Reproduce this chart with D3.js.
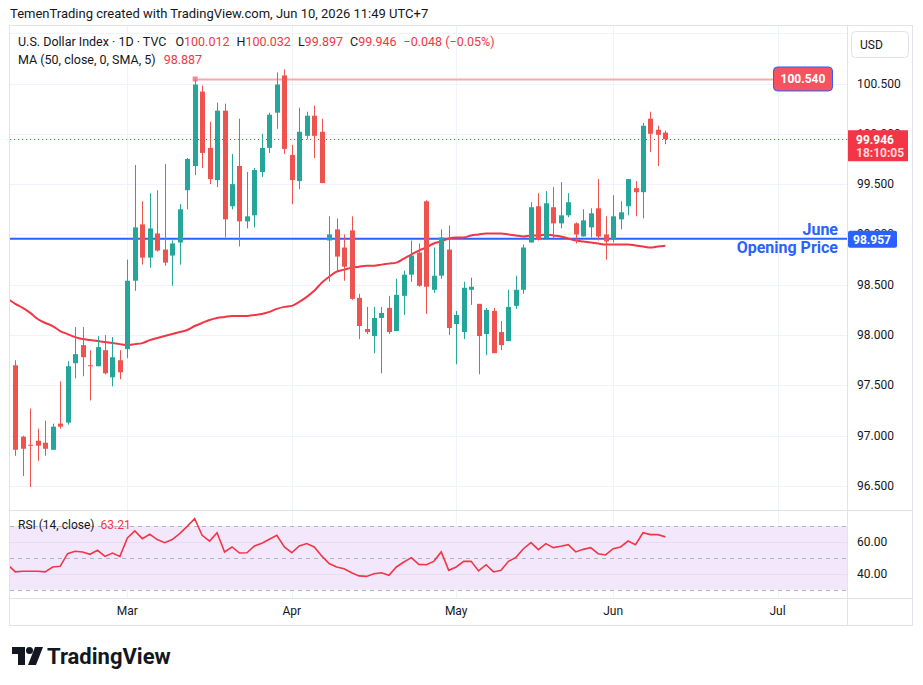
<!DOCTYPE html>
<html>
<head>
<meta charset="utf-8">
<script src="https://cdn.jsdelivr.net/npm/d3@7"></script>
<style>
  body { margin: 0; background: #fff; }
  svg { font-family: Roboto, "Noto Sans", sans-serif; }
</style>
</head>
<body>
<div id="chart"></div>
<script>
// Trading days shown on the chart
const dates = [
  '2026-02-09','2026-02-10','2026-02-11','2026-02-12','2026-02-13','2026-02-16','2026-02-17','2026-02-18','2026-02-19','2026-02-20',
  '2026-02-23','2026-02-24','2026-02-25','2026-02-26','2026-02-27',
  '2026-03-02','2026-03-03','2026-03-04','2026-03-05','2026-03-06','2026-03-09','2026-03-10','2026-03-11','2026-03-12','2026-03-13',
  '2026-03-16','2026-03-17','2026-03-18','2026-03-19','2026-03-20','2026-03-23','2026-03-24','2026-03-25','2026-03-26','2026-03-27',
  '2026-03-30','2026-03-31',
  '2026-04-01','2026-04-02','2026-04-03','2026-04-06','2026-04-07','2026-04-08','2026-04-09','2026-04-10','2026-04-13','2026-04-14',
  '2026-04-15','2026-04-16','2026-04-17','2026-04-20','2026-04-21','2026-04-22','2026-04-23','2026-04-24','2026-04-27','2026-04-28',
  '2026-04-29','2026-04-30',
  '2026-05-01','2026-05-04','2026-05-05','2026-05-06','2026-05-07','2026-05-08','2026-05-11','2026-05-12','2026-05-13','2026-05-14',
  '2026-05-15','2026-05-18','2026-05-19','2026-05-20','2026-05-21','2026-05-22','2026-05-25','2026-05-26','2026-05-27','2026-05-28',
  '2026-05-29',
  '2026-06-01','2026-06-02','2026-06-03','2026-06-04','2026-06-05','2026-06-08','2026-06-09','2026-06-10'
];

const opens = [
  97.70, 96.99, 96.91, 96.95, 96.93, 96.86, 97.12, 97.13, 97.72, 97.90,
  97.70, 97.69, 97.85, 97.58, 97.75, 97.86, 98.54, 99.10, 98.77, 99.01,
  98.85, 98.79, 98.92, 99.44, 99.68, 100.42, 99.86, 99.54, 100.23, 99.28,
  99.68, 99.13, 99.19, 99.62, 99.86, 100.21, 100.58, 99.79, 99.53, 99.98,
  100.18, 100.02, 98.94, 99.05, 98.87, 99.04, 98.37, 98.06, 97.99, 98.17,
  98.27, 98.04, 98.39, 98.60, 98.82, 99.33, 98.45, 98.59, 98.85, 98.11,
  98.03, 98.45, 98.31, 98.01, 98.24, 98.03, 97.94, 98.29, 98.45, 98.92,
  99.28, 98.96, 99.27, 99.11, 99.19, 99.11, 98.98, 99.07, 99.26, 99.00,
  98.95, 99.15, 99.28, 99.46, 99.42, 100.15, 100.04, 100.012
];
const highs = [
  97.75, 97.00, 97.27, 97.07, 97.15, 97.12, 97.54, 97.74, 98.08, 98.08,
  97.85, 97.99, 98.00, 97.98, 97.85, 98.75, 99.69, 99.33, 99.41, 99.44,
  99.70, 98.94, 99.30, 99.76, 100.54, 100.48, 100.12, 100.31, 100.30, 99.80,
  100.15, 99.62, 99.66, 100.00, 100.21, 100.61, 100.64, 99.89, 100.26, 100.22,
  100.28, 100.15, 99.18, 99.16, 99.00, 99.18, 98.41, 98.28, 98.28, 98.28,
  98.39, 98.56, 98.64, 98.94, 98.91, 99.34, 98.87, 99.05, 99.09, 98.24,
  98.53, 98.57, 98.31, 98.27, 98.27, 98.14, 98.45, 98.59, 98.90, 99.32,
  99.41, 99.43, 99.47, 99.52, 99.41, 99.12, 99.25, 99.26, 99.55, 99.18,
  99.39, 99.33, 99.55, 99.53, 100.11, 100.22, 100.08, 100.032
];
const lows = [
  96.80, 96.60, 96.49, 96.75, 96.80, 96.86, 97.07, 97.11, 97.57, 97.59,
  97.35, 97.69, 97.61, 97.49, 97.56, 97.77, 98.44, 98.70, 98.67, 98.83,
  98.69, 98.49, 98.70, 99.25, 99.59, 99.66, 99.50, 99.47, 98.97, 99.25,
  98.88, 99.06, 99.07, 99.57, 99.81, 100.05, 99.80, 99.30, 99.45, 99.95,
  99.76, 99.51, 98.53, 98.64, 98.54, 98.35, 97.96, 98.01, 97.82, 97.62,
  98.01, 98.04, 98.20, 98.53, 98.48, 98.21, 98.42, 98.56, 98.00, 97.71,
  97.96, 98.30, 97.61, 97.80, 97.82, 97.85, 97.94, 98.26, 98.41, 98.92,
  98.94, 98.96, 98.96, 99.06, 99.17, 98.91, 98.98, 98.97, 98.94, 98.75,
  98.92, 99.05, 99.19, 99.18, 99.16, 99.82, 99.68, 99.897
];
const closes = [
  96.86, 96.87, 96.90, 96.90, 96.87, 97.09, 97.09, 97.69, 97.81, 97.78,
  97.69, 97.88, 97.62, 97.78, 97.63, 98.54, 99.07, 98.77, 99.06, 98.84,
  98.72, 98.91, 99.25, 99.75, 100.49, 99.81, 99.55, 100.23, 99.15, 99.50,
  99.13, 99.18, 99.64, 99.86, 100.19, 100.49, 99.85, 99.54, 100.02, 100.18,
  99.98, 99.51, 99.00, 98.78, 98.68, 98.36, 98.09, 98.03, 98.17, 98.22,
  98.03, 98.40, 98.60, 98.79, 98.49, 98.48, 98.59, 98.97, 98.07, 98.20,
  98.47, 98.48, 97.99, 98.25, 97.82, 97.90, 98.28, 98.45, 98.87, 99.27,
  98.95, 99.31, 99.11, 99.19, 99.32, 99.00, 99.14, 99.21, 98.98, 98.93,
  99.18, 99.22, 99.55, 99.42, 100.08, 100.00, 99.99, 99.946
];

// MA (50, close) values
const ma50 = [
  98.31, 98.27, 98.22, 98.16, 98.12, 98.09, 98.04, 98.01, 97.98, 97.96,
  97.95, 97.94, 97.93, 97.92, 97.91, 97.90, 97.91, 97.92, 97.95, 97.97,
  97.99, 98.01, 98.03, 98.05, 98.09, 98.12, 98.15, 98.17, 98.18, 98.19,
  98.19, 98.19, 98.20, 98.21, 98.23, 98.26, 98.28, 98.29, 98.33, 98.38,
  98.44, 98.52, 98.58, 98.63, 98.65, 98.67, 98.68, 98.69, 98.69, 98.70,
  98.71, 98.72, 98.76, 98.80, 98.84, 98.87, 98.91, 98.93, 98.96, 98.97,
  98.97, 98.99, 99.00, 99.01, 99.01, 99.01, 99.00, 98.99, 98.98, 98.99,
  98.99, 99.00, 98.99, 98.98, 98.96, 98.94, 98.93, 98.92, 98.91, 98.90,
  98.90, 98.90, 98.90, 98.89, 98.88, 98.87, 98.88, 98.887
];

// RSI (14, close)
const rsi14 = [
  41.3, 41.7, 41.7, 41.7, 41.3, 44.4, 44.8, 52.7, 54.2, 53.8,
  52.3, 54.8, 51.0, 53.1, 51.0, 62.5, 66.9, 62.1, 64.8, 61.5,
  59.6, 61.5, 65.2, 69.8, 74.6, 64.2, 60.6, 65.8, 53.8, 56.9,
  53.1, 53.3, 57.5, 59.2, 61.7, 64.2, 56.9, 53.3, 57.5, 59.0,
  56.9, 51.3, 46.5, 44.4, 43.3, 40.8, 38.8, 38.5, 40.2, 40.8,
  39.2, 44.4, 47.5, 50.2, 46.0, 45.8, 47.9, 53.8, 42.3, 44.4,
  47.9, 47.9, 41.9, 45.8, 41.3, 42.3, 47.9, 50.4, 55.8, 59.6,
  55.2, 59.0, 56.5, 57.3, 58.3, 53.8, 55.4, 56.5, 52.7, 51.9,
  55.8, 56.9, 60.6, 58.3, 65.8, 64.6, 64.6, 63.21
];

// Values of the bar just before the first visible one (lines run to the pane edge)
const maPrev = 98.36;
const rsiPrev = 45.8;

// Axis ticks
const priceTicks = [96.5, 97, 97.5, 98, 98.5, 99, 99.5, 100, 100.5, 101];
const rsiTicks = [40, 60];
const rsiBands = [70, 50, 30];
const monthLabels = ['Mar', 'Apr', 'May', 'Jun', 'Jul'];
const monthBarIndex = [15, 37, 59, 80, 102];

// Levels
const openingPrice = 98.957;
const alertPrice = 100.540;
const alertFromBar = 24;
const countdown = '18:10:05';

const W = 923, H = 685;
const C_UP = '#26a69a', C_DN = '#ef5350', C_RED = '#f23645', C_BLUE = '#2962ff';
const C_TXT = '#131722', C_GRID = '#f0f3fa', C_BORDER = '#e0e3eb';

const pane = { left: 10, right: 847, top: 26, bottom: 510 };
const rsiPane = { top: 510, bottom: 598 };

const svg = d3.select('#chart').append('svg')
  .attr('width', W).attr('height', H);

svg.append('rect').attr('width', W).attr('height', H).attr('fill', '#fff');

// Scales
const xScale = d3.scaleLinear().domain([-0.71, 111.3]).range([pane.left, pane.right]);
const yScale = d3.scaleLinear().domain([96.5, 100.5]).range([486, 83.5]);
const rScale = d3.scaleLinear().domain([30, 70]).range([590, 526]);

const bars = dates.map((d, i) => ({
  i, date: d, o: opens[i], h: highs[i], l: lows[i], c: closes[i]
}));

// Title
svg.append('text')
  .attr('x', 10).attr('y', 18)
  .attr('font-size', 13).attr('fill', C_TXT)
  .text('TemenTrading created with TradingView.com, Jun 10, 2026 11:49 UTC+7');

// Clip paths
svg.append('clipPath').attr('id', 'clipMain').append('rect')
  .attr('x', pane.left).attr('y', pane.top)
  .attr('width', pane.right - pane.left).attr('height', pane.bottom - pane.top);
svg.append('clipPath').attr('id', 'clipRsi').append('rect')
  .attr('x', pane.left).attr('y', rsiPane.top)
  .attr('width', pane.right - pane.left).attr('height', rsiPane.bottom - rsiPane.top);

// Vertical grid (both panes)
svg.append('g').selectAll('line')
  .data(monthBarIndex)
  .join('line')
  .attr('x1', d => Math.round(xScale(d)) + 0.5)
  .attr('x2', d => Math.round(xScale(d)) + 0.5)
  .attr('y1', pane.top).attr('y2', rsiPane.bottom)
  .attr('stroke', C_GRID);

// Horizontal grid
const main = svg.append('g').attr('clip-path', 'url(#clipMain)');
main.append('g').selectAll('line')
  .data(priceTicks)
  .join('line')
  .attr('x1', pane.left).attr('x2', pane.right)
  .attr('y1', d => Math.round(yScale(d)) + 0.5)
  .attr('y2', d => Math.round(yScale(d)) + 0.5)
  .attr('stroke', C_GRID);

// Alert level line from the bar high
main.append('line')
  .attr('x1', xScale(alertFromBar)).attr('x2', 773)
  .attr('y1', yScale(alertPrice)).attr('y2', yScale(alertPrice))
  .attr('stroke', '#f7a9ae').attr('stroke-width', 2);
main.append('rect')
  .attr('x', xScale(alertFromBar) - 2).attr('y', yScale(alertPrice) - 3)
  .attr('width', 5).attr('height', 5).attr('fill', '#f28b93');

// Opening price line
main.append('line')
  .attr('x1', pane.left).attr('x2', pane.right)
  .attr('y1', yScale(openingPrice)).attr('y2', yScale(openingPrice))
  .attr('stroke', C_BLUE).attr('stroke-width', 2);

// Last price dotted line
const lastClose = closes[closes.length - 1];
main.append('line')
  .attr('x1', pane.left).attr('x2', pane.right)
  .attr('y1', Math.round(yScale(lastClose)) + 0.5).attr('y2', Math.round(yScale(lastClose)) + 0.5)
  .attr('stroke', C_RED).attr('stroke-dasharray', '1,3');

// MA line
main.append('path')
  .datum([maPrev].concat(ma50))
  .attr('fill', 'none')
  .attr('stroke', C_RED)
  .attr('stroke-width', 2)
  .attr('d', d3.line().x((d, i) => xScale(i - 1)).y(d => yScale(d)).curve(d3.curveMonotoneX));

// Candles
const candle = main.append('g').selectAll('g')
  .data(bars)
  .join('g')
  .attr('fill', d => d.c >= d.o ? C_UP : C_DN)
  .attr('stroke', d => d.c >= d.o ? C_UP : C_DN);

candle.append('line')
  .attr('x1', d => Math.round(xScale(d.i)) + 0.5)
  .attr('x2', d => Math.round(xScale(d.i)) + 0.5)
  .attr('y1', d => yScale(d.h))
  .attr('y2', d => yScale(d.l))
  .attr('stroke-width', 1);

candle.append('rect')
  .attr('stroke', 'none')
  .attr('x', d => Math.round(xScale(d.i)) - 2)
  .attr('width', 5)
  .attr('y', d => yScale(Math.max(d.o, d.c)))
  .attr('height', d => Math.max(1, yScale(Math.min(d.o, d.c)) - yScale(Math.max(d.o, d.c))));

// June opening price text
main.append('text')
  .attr('x', 838).attr('y', yScale(openingPrice) - 4)
  .attr('text-anchor', 'end').attr('font-size', 16).attr('font-weight', 'bold')
  .attr('fill', C_BLUE).text('June');
main.append('text')
  .attr('x', 838).attr('y', yScale(openingPrice) + 14)
  .attr('text-anchor', 'end').attr('font-size', 16).attr('font-weight', 'bold')
  .attr('fill', C_BLUE).text('Opening Price');

// Alert label
svg.append('rect')
  .attr('x', 773.5).attr('y', yScale(alertPrice) - 12.5)
  .attr('width', 59).attr('height', 24).attr('rx', 4)
  .attr('fill', '#f7525f').attr('stroke', C_BLUE).attr('stroke-width', 1);
svg.append('text')
  .attr('x', 803).attr('y', yScale(alertPrice) + 4)
  .attr('text-anchor', 'middle').attr('font-size', 12).attr('font-weight', 'bold')
  .attr('fill', '#fff').text(d3.format('.3f')(alertPrice));

// Legend
const legend1 = svg.append('text').attr('x', 18).attr('y', 46).attr('font-size', 12.5).attr('fill', C_TXT);
legend1.append('tspan').text('U.S. Dollar Index · 1D · TVC');
const ohlc = [['O', opens], ['H', highs], ['L', lows], ['C', closes]];
ohlc.forEach(([k, arr], j) => {
  legend1.append('tspan').attr('dx', j === 0 ? 9 : 7).text(k);
  legend1.append('tspan').attr('fill', C_RED).text(d3.format('.3f')(arr[arr.length - 1]));
});
legend1.append('tspan').attr('dx', 7).attr('fill', C_RED)
  .text('\u22120.048 (\u22120.05%)');

const legend2 = svg.append('text').attr('x', 18).attr('y', 64).attr('font-size', 12.5).attr('fill', C_TXT);
legend2.append('tspan').text('MA (50, close, 0, SMA, 5)');
legend2.append('tspan').attr('dx', 8).attr('fill', C_RED).text(d3.format('.3f')(ma50[ma50.length - 1]));

// RSI pane
const rsiG = svg.append('g').attr('clip-path', 'url(#clipRsi)');
rsiG.append('rect')
  .attr('x', pane.left).attr('width', pane.right - pane.left)
  .attr('y', rScale(70)).attr('height', rScale(30) - rScale(70))
  .attr('fill', '#f3e7fc');
rsiG.append('g').selectAll('line')
  .data(rsiTicks)
  .join('line')
  .attr('x1', pane.left).attr('x2', pane.right)
  .attr('y1', d => Math.round(rScale(d)) + 0.5).attr('y2', d => Math.round(rScale(d)) + 0.5)
  .attr('stroke', '#e8dcf3');
rsiG.append('g').selectAll('line')
  .data(rsiBands)
  .join('line')
  .attr('x1', pane.left).attr('x2', pane.right)
  .attr('y1', d => Math.round(rScale(d)) + 0.5).attr('y2', d => Math.round(rScale(d)) + 0.5)
  .attr('stroke', '#b2b5be').attr('stroke-dasharray', '4,4');
rsiG.append('path')
  .datum([rsiPrev].concat(rsi14))
  .attr('fill', 'none').attr('stroke', C_RED).attr('stroke-width', 1.6)
  .attr('d', d3.line().x((d, i) => xScale(i - 1)).y(d => rScale(d)));

const legend3 = svg.append('text').attr('x', 18).attr('y', 529).attr('font-size', 12).attr('fill', C_TXT);
legend3.append('tspan').text('RSI (14, close)');
legend3.append('tspan').attr('dx', 6).attr('fill', C_RED).text(d3.format('.2f')(rsi14[rsi14.length - 1]));

// Frame and separators
svg.append('rect')
  .attr('x', 9.5).attr('y', 25.5).attr('width', 903).attr('height', 600)
  .attr('fill', 'none').attr('stroke', C_BORDER);
svg.append('line').attr('x1', pane.right + 0.5).attr('x2', pane.right + 0.5)
  .attr('y1', 25.5).attr('y2', 625.5).attr('stroke', C_BORDER);
svg.append('line').attr('x1', 9.5).attr('x2', 912.5)
  .attr('y1', rsiPane.top + 0.5).attr('y2', rsiPane.top + 0.5).attr('stroke', C_BORDER);
svg.append('line').attr('x1', 9.5).attr('x2', 912.5)
  .attr('y1', rsiPane.bottom + 0.5).attr('y2', rsiPane.bottom + 0.5).attr('stroke', C_BORDER);

// Price axis labels
svg.append('g').selectAll('text')
  .data(priceTicks.filter(d => d <= 100.5))
  .join('text')
  .attr('x', 857).attr('y', d => yScale(d) + 4)
  .attr('font-size', 12).attr('fill', C_TXT)
  .text(d => d3.format('.3f')(d));

// RSI axis labels
svg.append('g').selectAll('text')
  .data(rsiTicks)
  .join('text')
  .attr('x', 857).attr('y', d => rScale(d) + 4)
  .attr('font-size', 12).attr('fill', C_TXT)
  .text(d => d3.format('.2f')(d));

// Time axis labels
svg.append('g').selectAll('text')
  .data(monthBarIndex)
  .join('text')
  .attr('x', d => xScale(d)).attr('y', 615)
  .attr('text-anchor', 'middle').attr('font-size', 12).attr('fill', C_TXT)
  .text((d, i) => monthLabels[i]);

// USD button
svg.append('rect')
  .attr('x', 851.5).attr('y', 31.5).attr('width', 57).attr('height', 26).attr('rx', 4)
  .attr('fill', '#fff').attr('stroke', C_BORDER);
svg.append('text')
  .attr('x', 860).attr('y', 49).attr('font-size', 12).attr('fill', C_TXT).text('USD');

// Last price tag
const yLast = yScale(lastClose);
svg.append('rect')
  .attr('x', 848).attr('y', yLast - 9).attr('width', 60).attr('height', 31)
  .attr('fill', C_RED);
svg.append('text')
  .attr('x', 856).attr('y', yLast + 5).attr('font-size', 12).attr('font-weight', 'bold')
  .attr('fill', '#fff').text(d3.format('.3f')(lastClose));
svg.append('text')
  .attr('x', 856).attr('y', yLast + 18).attr('font-size', 12).attr('font-weight', 'bold')
  .attr('fill', '#ffd6d9').text(countdown);

// Opening price tag
const yOpen = yScale(openingPrice);
svg.append('rect')
  .attr('x', 848).attr('y', yOpen - 8).attr('width', 49).attr('height', 17).attr('rx', 2)
  .attr('fill', C_BLUE);
svg.append('text')
  .attr('x', 853).attr('y', yOpen + 5).attr('font-size', 12).attr('font-weight', 'bold')
  .attr('fill', '#fff').text(d3.format('.3f')(openingPrice));

// TradingView logo
const logo = svg.append('g').attr('fill', C_TXT);
logo.append('path').attr('d', 'M12,647 H25 V665 H18 V654 H12 Z');
logo.append('circle').attr('cx', 29.5).attr('cy', 650.5).attr('r', 3.5);
logo.append('path').attr('d', 'M35,647 H43 L36,665 H28 Z');
svg.append('text')
  .attr('x', 47).attr('y', 664).attr('font-size', 22).attr('font-weight', 'bold')
  .attr('fill', C_TXT).text('TradingView');
</script>
</body>
</html>
